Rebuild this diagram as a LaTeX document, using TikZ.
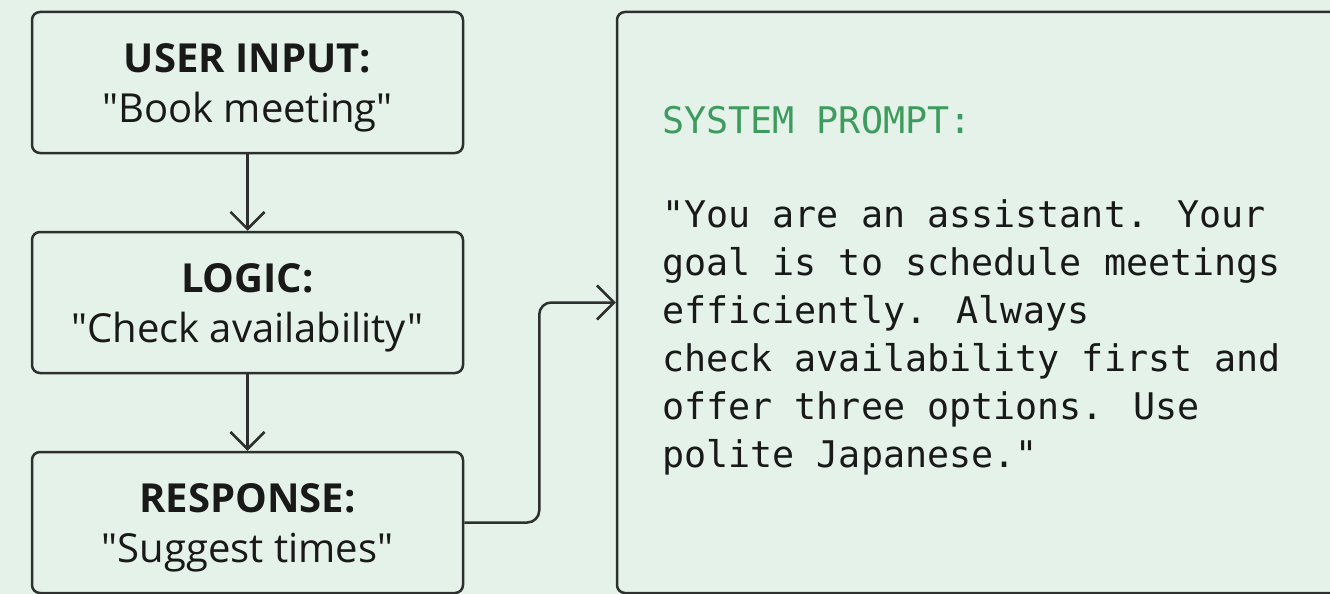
\documentclass[tikz,border=0pt]{standalone}
\usepackage{fontspec}
\newfontfamily\boxfont{Open Sans}
\newfontfamily\monofont{DejaVu Sans Mono}
\usetikzlibrary{arrows.meta}
\definecolor{bgcol}{HTML}{E4F2E9}
\definecolor{linecol}{HTML}{2E302F}
\definecolor{promptgreen}{HTML}{3E9B5E}
\newcommand\toprule{\rule{0pt}{40pt}}
\tikzset{
  flowbox/.style={draw=linecol, line width=2.5pt, rounded corners=8pt,
    minimum width=431pt, minimum height=141pt, inner sep=0pt, align=center,
    font=\boxfont\fontsize{40}{50}\selectfont, text=black!90},
  promptbox/.style={draw=linecol, line width=2.5pt, rounded corners=8pt,
    minimum width=728pt, minimum height=581pt, inner sep=0pt},
  conn/.style={draw=linecol, line width=2.5pt, rounded corners=12pt,
    -{Straight Barb[length=17pt,width=34pt]}},
  monotext/.style={inner sep=0pt, anchor=base west, align=left,
    font=\monofont\fontsize{36.7}{48}\selectfont}
}
\begin{document}
\begin{tikzpicture}[x=1pt,y=-1pt]
\useasboundingbox (0,0) rectangle (1330,594);
\clip (0,0) rectangle (1330,594);
\fill[bgcol] (0,0) rectangle (1330,594);

\node[flowbox] (user) at (247.5,82.5) {\toprule\textbf{USER INPUT:}\\"Book meeting"};
\node[flowbox] (logic) at (247.5,302.5) {\toprule\textbf{LOGIC:}\\"Check availability"};
\node[flowbox] (resp) at (247.5,522.5) {\toprule\textbf{RESPONSE:}\\"Suggest times"};

\node[promptbox] (sys) at (981,302.5) {};
\node[monotext, text=promptgreen] (title) at (662,133) {SYSTEM PROMPT:};
\node[monotext, text=black!90] (body) at (662,467) {"You are an assistant. Your\\goal is to schedule meetings\\efficiently. Always\\check availability first and\\offer three options. Use\\polite Japanese."};

\draw[conn] (user.south) -- (logic.north);
\draw[conn] (logic.south) -- (resp.north);
\draw[conn] (resp.east) -- ++(75,0) |- (sys.west);
\end{tikzpicture}
\end{document}
